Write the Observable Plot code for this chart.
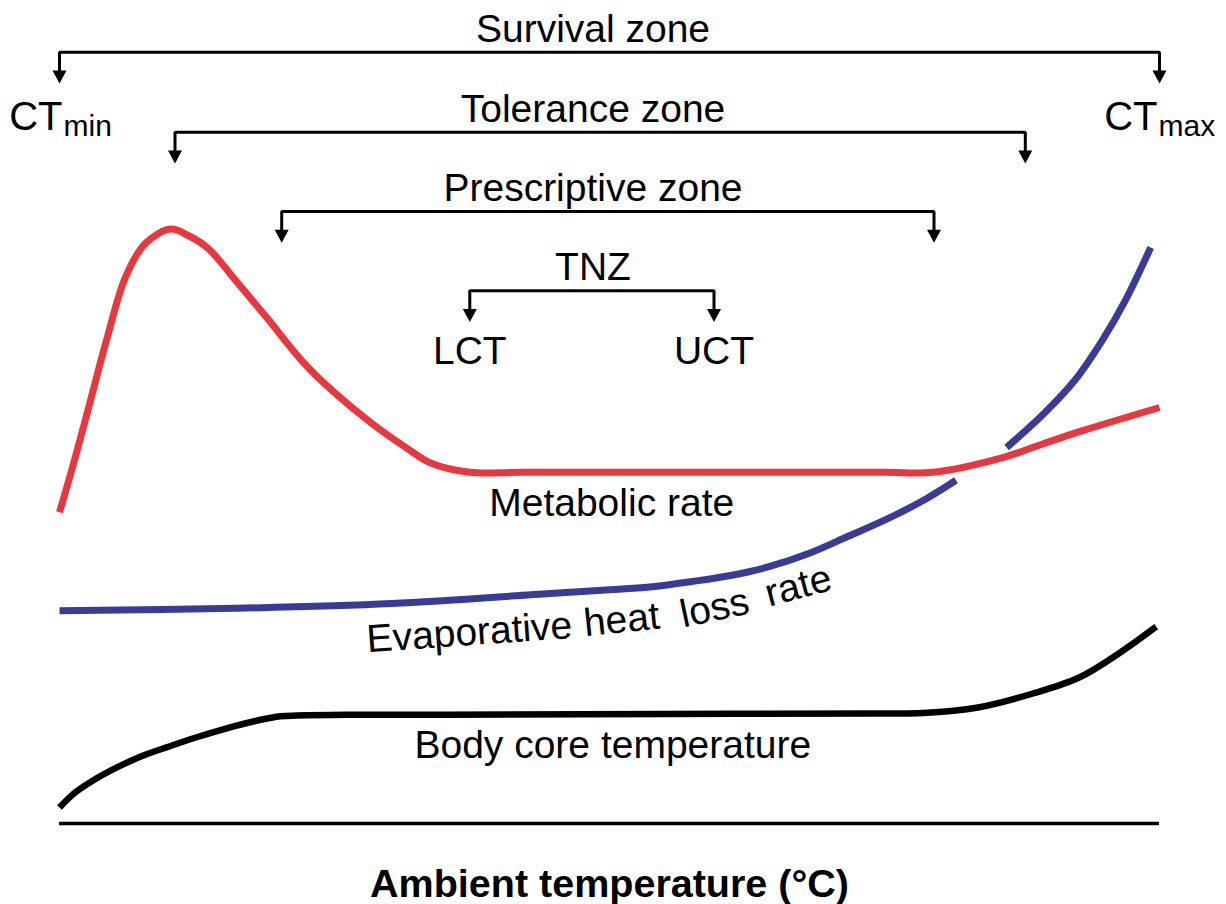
<!DOCTYPE html>
<html>
<head>
<meta charset="utf-8">
<script src="https://cdn.jsdelivr.net/npm/d3@7"></script>
<script src="https://cdn.jsdelivr.net/npm/@observablehq/plot@0.6"></script>
<style>
  html, body { margin: 0; padding: 0; background: #ffffff; }
  #chart svg { display: block; }
</style>
</head>
<body>
<div id="chart"></div>
<script>
// Conceptual chart. Ambient temperature in relative units (0 = CTmin, 100 = CTmax),
// responses in relative units (0 = the baseline axis).

// Metabolic rate (red)
const metabolicT = [0, 1.36, 2.82, 4.27, 6, 7.8, 10.1, 11.7, 13.5, 16, 18.8, 22, 24.8, 28.4, 31.6, 33.7, 37.3, 42, 60, 75, 79.4, 85.9, 89.5, 93, 100];
const metabolicV = [38.9, 45.4, 52.9, 60.4, 68.3, 72.5, 74.3, 73.5, 71.9, 67.9, 63.3, 57.9, 54.1, 50, 46.9, 45.1, 43.9, 43.9, 43.9, 43.9, 43.9, 45.8, 47.5, 49.1, 52];

// Evaporative heat loss rate (blue) – broken where it crosses the metabolic curve
const evaporativeT = [0, 16, 30.2, 44.6, 50.4, 53.9, 57.5, 61, 64.5, 68.1, 71.7, 75.3, 78.8, 81.5, NaN, 86.1, 89.5, 92.3, 94.8, 96.9, 99.2];
const evaporativeV = [26.6, 26.9, 27.5, 28.75, 29.25, 29.6, 30.25, 31, 32.1, 33.75, 35.9, 38.1, 40.6, 42.9, NaN, 47, 51.25, 55.4, 60.4, 65.4, 72];

// Body core temperature (black)
const coreT = [0, 1.45, 3.2, 5.36, 7.45, 9.9, 12.4, 15.2, 18.1, 20.1, 21.6, 26, 35, 55, 74, 78.5, 83.5, 88.5, 92.7, 96.3, 99.7];
const coreV = [2, 3.9, 5.5, 7.1, 8.4, 9.6, 10.75, 11.9, 12.9, 13.4, 13.5, 13.6, 13.6, 13.7, 13.75, 13.8, 14.5, 16.25, 18.25, 21.25, 24.6];

// Zones (brackets)
const zoneNames = ["Survival zone", "Tolerance zone", "Prescriptive zone", "TNZ"];
const zoneLow = [0, 10.5, 20.2, 37.3];
const zoneHigh = [100, 87.8, 79.5, 59.5];
const zoneLevel = [96.4, 86.4, 76.5, 66.6];

// Labels
const limitLabels = ["LCT", "UCT"];
const evaporativeWords = ["Evaporative", "heat", "loss", "rate"];
const evaporativeWordT = [28, 47.8, 56.7, 64.5];
const evaporativeWordV = [21.4, 23.4, 24.5, 27.1];
const evaporativeWordAngle = [-4, -6, -12, -15];
const axisLabel = "Ambient temperature (°C)";

// ---- build tables ----
const rows = (t, v) => t.map((x, i) => ({t: x, v: v[i]}));
const metabolic = rows(metabolicT, metabolicV);
const evaporative = rows(evaporativeT, evaporativeV);
const core = rows(coreT, coreV);

const DROP = 3.9;   // arrow length below the bracket bar
const HEAD = 1.5;   // arrow head length
const zones = zoneNames.map((name, i) => ({name, low: zoneLow[i], high: zoneHigh[i], level: zoneLevel[i]}));
const bracketPath = zones.flatMap(z => [
  {name: z.name, t: z.low, v: z.level - DROP + HEAD},
  {name: z.name, t: z.low, v: z.level},
  {name: z.name, t: z.high, v: z.level},
  {name: z.name, t: z.high, v: z.level - DROP + HEAD}
]);
const tips = zones.flatMap(z => [{t: z.low, v: z.level - DROP}, {t: z.high, v: z.level - DROP}]);
const tnz = zones[3];
const limits = limitLabels.map((label, i) => ({label, t: i === 0 ? tnz.low : tnz.high}));
const evapWords = evaporativeWords.map((w, i) => ({w, t: evaporativeWordT[i], v: evaporativeWordV[i], a: evaporativeWordAngle[i]}));

const downTriangle = {
  draw(context) {
    context.moveTo(0, 0);
    context.lineTo(-7, -13);
    context.lineTo(7, -13);
    context.closePath();
  }
};

const FONT = "'Liberation Sans', Arial, Helvetica, sans-serif";
const FS = 39;
const txt = {lineAnchor: "bottom", fontFamily: FONT, fill: "#000"};

const chart = Plot.plot({
  width: 1226,
  height: 904,
  margin: 0,
  x: {domain: [0, 100], range: [59, 1159], axis: null},
  y: {domain: [0, 100], range: [823, 23], axis: null},
  style: {fontFamily: FONT, background: "#ffffff", color: "#000"},
  marks: [
    // baseline axis
    Plot.ruleY([0], {x1: 0, x2: 100, stroke: "#000", strokeWidth: 3.5}),
    // brackets
    Plot.line(bracketPath, {x: "t", y: "v", z: "name", stroke: "#000", strokeWidth: 3, strokeLinejoin: "miter", strokeLinecap: "butt"}),
    Plot.dot(tips, {x: "t", y: "v", symbol: downTriangle, fill: "#000", stroke: "none"}),
    Plot.text(zones, {...txt, x: () => 48.5, y: d => d.level + 1.3, text: "name", textAnchor: "middle", fontSize: FS}),
    // CT labels
    Plot.text([0], {...txt, x: d => d, y: 86.7, text: () => "CT", textAnchor: "end", dx: 3, fontSize: 40}),
    Plot.text([0], {...txt, x: d => d, y: 86.7, text: () => "min", textAnchor: "start", dx: 4, dy: 6, fontSize: 30}),
    Plot.text([100], {...txt, x: d => d, y: 86.7, text: () => "CT", textAnchor: "end", dx: -2, fontSize: 40}),
    Plot.text([100], {...txt, x: d => d, y: 86.7, text: () => "max", textAnchor: "start", dx: -1, dy: 6, fontSize: 30}),
    // LCT / UCT
    Plot.text(limits, {...txt, x: "t", y: 57.5, text: "label", textAnchor: "middle", fontSize: FS}),
    // curves
    Plot.line(core, {x: "t", y: "v", stroke: "#000", strokeWidth: 6.5, curve: "catmull-rom", strokeLinecap: "butt"}),
    Plot.line(evaporative, {x: "t", y: "v", stroke: "#383c96", strokeWidth: 7, curve: "catmull-rom", strokeLinecap: "butt"}),
    Plot.line(metabolic, {x: "t", y: "v", stroke: "#e8383f", strokeWidth: 7, curve: "catmull-rom", strokeLinecap: "butt"}),
    // curve labels
    Plot.text(["Metabolic rate"], {...txt, x: 50.2, y: 38.5, text: d => d, textAnchor: "middle", fontSize: FS}),
    Plot.text(evapWords, {...txt, x: "t", y: "v", text: "w", rotate: "a", textAnchor: "start", fontSize: FS}),
    Plot.text(["Body core temperature"], {...txt, x: 50.3, y: 8.25, text: d => d, textAnchor: "middle", fontSize: FS}),
    // axis title
    Plot.text([axisLabel], {...txt, x: 50, y: -9.2, text: d => d, textAnchor: "middle", fontSize: 39.5, fontWeight: "bold"})
  ]
});

document.getElementById("chart").appendChild(chart);
</script>
</body>
</html>
